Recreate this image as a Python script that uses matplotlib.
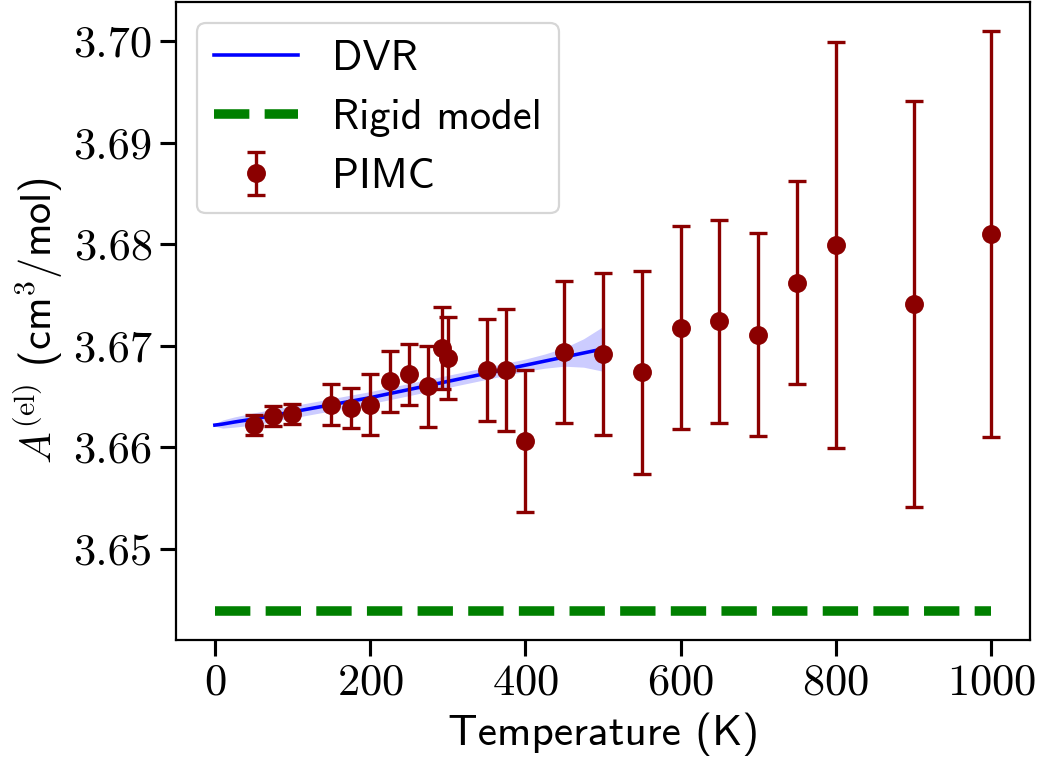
import numpy as np
import matplotlib
matplotlib.use('Agg')
import matplotlib.pyplot as plt

plt.rcParams['font.family'] = 'cmss10'
plt.rcParams['mathtext.fontset'] = 'cm'
plt.rcParams['axes.formatter.use_mathtext'] = True

# DVR curve (with uncertainty band)
dvr_T = [0, 10, 25, 50, 100, 150, 200, 250, 300, 350, 400, 425, 450, 475, 500]
dvr_A = [3.6622, 3.6623, 3.6625, 3.6628, 3.6635, 3.6642, 3.6649, 3.6657,
         3.6665, 3.6673, 3.6681, 3.6685, 3.6689, 3.6693, 3.6697]
dvr_err = [0.0001, 0.0004, 0.0005, 0.0006, 0.0006, 0.0006, 0.0006, 0.0006,
           0.0006, 0.0006, 0.0006, 0.0007, 0.0009, 0.0014, 0.0022]

# rigid model
rigid_T = [0, 1000]
rigid_A = [3.6439, 3.6439]

# PIMC
pimc_T = [50, 75, 100, 150, 175, 200, 225, 250, 275, 293, 300, 350, 375, 400,
          450, 500, 550, 600, 650, 700, 750, 800, 900, 1000]
pimc_A = [3.6622, 3.6631, 3.6633, 3.6642, 3.6639, 3.6642, 3.6665, 3.6672,
          3.6660, 3.6698, 3.6688, 3.6676, 3.6676, 3.6606, 3.6694, 3.6692,
          3.6674, 3.6718, 3.6724, 3.6711, 3.6762, 3.6799, 3.6741, 3.6810]
pimc_err = [0.001, 0.001, 0.001, 0.002, 0.002, 0.003, 0.003, 0.003, 0.004,
            0.004, 0.004, 0.005, 0.006, 0.007, 0.007, 0.008, 0.010, 0.010,
            0.010, 0.010, 0.010, 0.020, 0.020, 0.020]

fig = plt.figure(figsize=(1038/160, 759/160), dpi=160)
ax = fig.add_axes([0.1696, 0.1568, 0.8227, 0.8406])

dvr_A = np.array(dvr_A)
dvr_err = np.array(dvr_err)
ax.fill_between(dvr_T, dvr_A - dvr_err, dvr_A + dvr_err, color='blue', alpha=0.2, lw=0)
ax.plot(dvr_T, dvr_A, color='blue', lw=1.6, label='DVR')
ax.plot(rigid_T, rigid_A, color='green', ls='--', lw=4.3, label='Rigid model')
ax.errorbar(pimc_T, pimc_A, yerr=pimc_err, fmt='o', color='darkred', ms=7.5,
            elinewidth=1.5, capsize=4, capthick=1.5, label='PIMC')

ax.set_xticks([0, 200, 400, 600, 800, 1000])
ax.set_yticks([3.65, 3.66, 3.67, 3.68, 3.69, 3.70])
ax.set_yticklabels(['3.65', '3.66', '3.67', '3.68', '3.69', '3.70'])
ax.tick_params(labelsize=20, length=7, width=1.4)
plt.setp(ax.get_xticklabels() + ax.get_yticklabels(), fontfamily='cmr10')
for s in ax.spines.values():
    s.set_linewidth(1.0)

ax.set_xlabel('Temperature (K)', fontsize=19.5)
ax.set_ylabel(r'$A^{(\rm el)}$ (cm$^3$/mol)', fontsize=19)
ax.legend(loc='upper left', fontsize=19)

fig.savefig('out.png', dpi=160)
